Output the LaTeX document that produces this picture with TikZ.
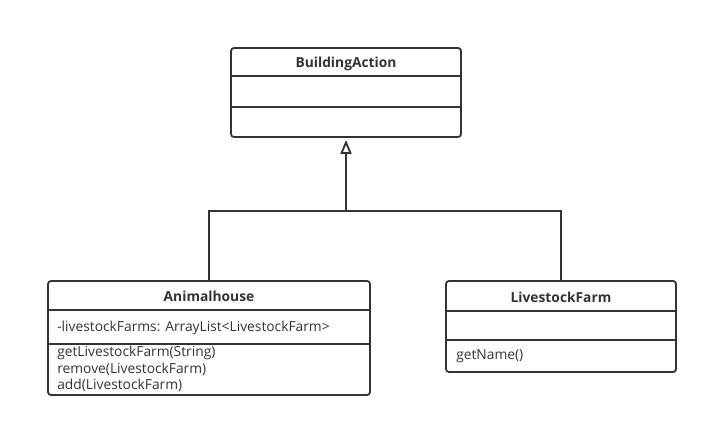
\documentclass[tikz,border=0pt]{standalone}
\usepackage{fontspec}
\setmainfont{Open Sans}
\usepackage{tikz}
\usetikzlibrary{positioning,calc,arrows.meta}
\definecolor{umlgray}{HTML}{333333}

\begin{document}
\begin{tikzpicture}[x=1pt,y=-1pt,on grid,
   class/.style={draw=umlgray,line width=1.8pt,rounded corners=3pt,inner sep=0pt},
   title/.style={font=\fontsize{13.8}{16}\selectfont\bfseries,text=umlgray},
   member/.style={font=\fontsize{13.8}{16.5}\selectfont,text=umlgray,anchor=west,align=left,inner sep=0pt},
   sep/.style={draw=umlgray,line width=1.8pt}]
   \useasboundingbox (0,0) rectangle (708,427);

   \node[class,minimum width=230pt,minimum height=89pt] (ba) at (346,92.5) {};
   \node[class,minimum width=322pt,minimum height=114pt] (ah) [below left=245.5pt and 137pt of ba] {};
   \node[class,minimum width=230pt,minimum height=91pt] (lf) [below right=234pt and 215pt of ba] {};

   % compartments
   \foreach \n/\d in {ba/29,ba/60,ah/30,ah/64,lf/31,lf/60}
      \draw[sep] ($(\n.north west)+(0,\d)$) -- ($(\n.north east)+(0,\d)$);

   \node[title] (ba_t) at ($(ba.north)+(0,16.5)$) {BuildingAction};
   \node[title] (ah_t) at ($(ah.north)+(0,16.5)$) {Animalhouse};
   \node[title] (lf_t) at ($(lf.north)+(0,17)$) {LivestockFarm};
   \node[member] (ah_a) at ($(ah.north west)+(10,47.5)$) {-livestockFarms: ArrayList<LivestockFarm>};
   \node[member] (ah_m) at ($(ah.north west)+(10,89)$) {getLivestockFarm(String)\\remove(LivestockFarm)\\add(LivestockFarm)};
   \node[member] (lf_m) at ($(lf.north west)+(11,76)$) {getName()};

   % inheritance
   \coordinate (j) at ($(ba.south)+(0,73)$);
   \draw[sep] (ah.north) |- (j) -| (lf.north);
   \draw[sep,-{Triangle[open,length=14pt,width=11pt]},shorten >=2pt] (j) -- (ba.south);
\end{tikzpicture}
\end{document}
